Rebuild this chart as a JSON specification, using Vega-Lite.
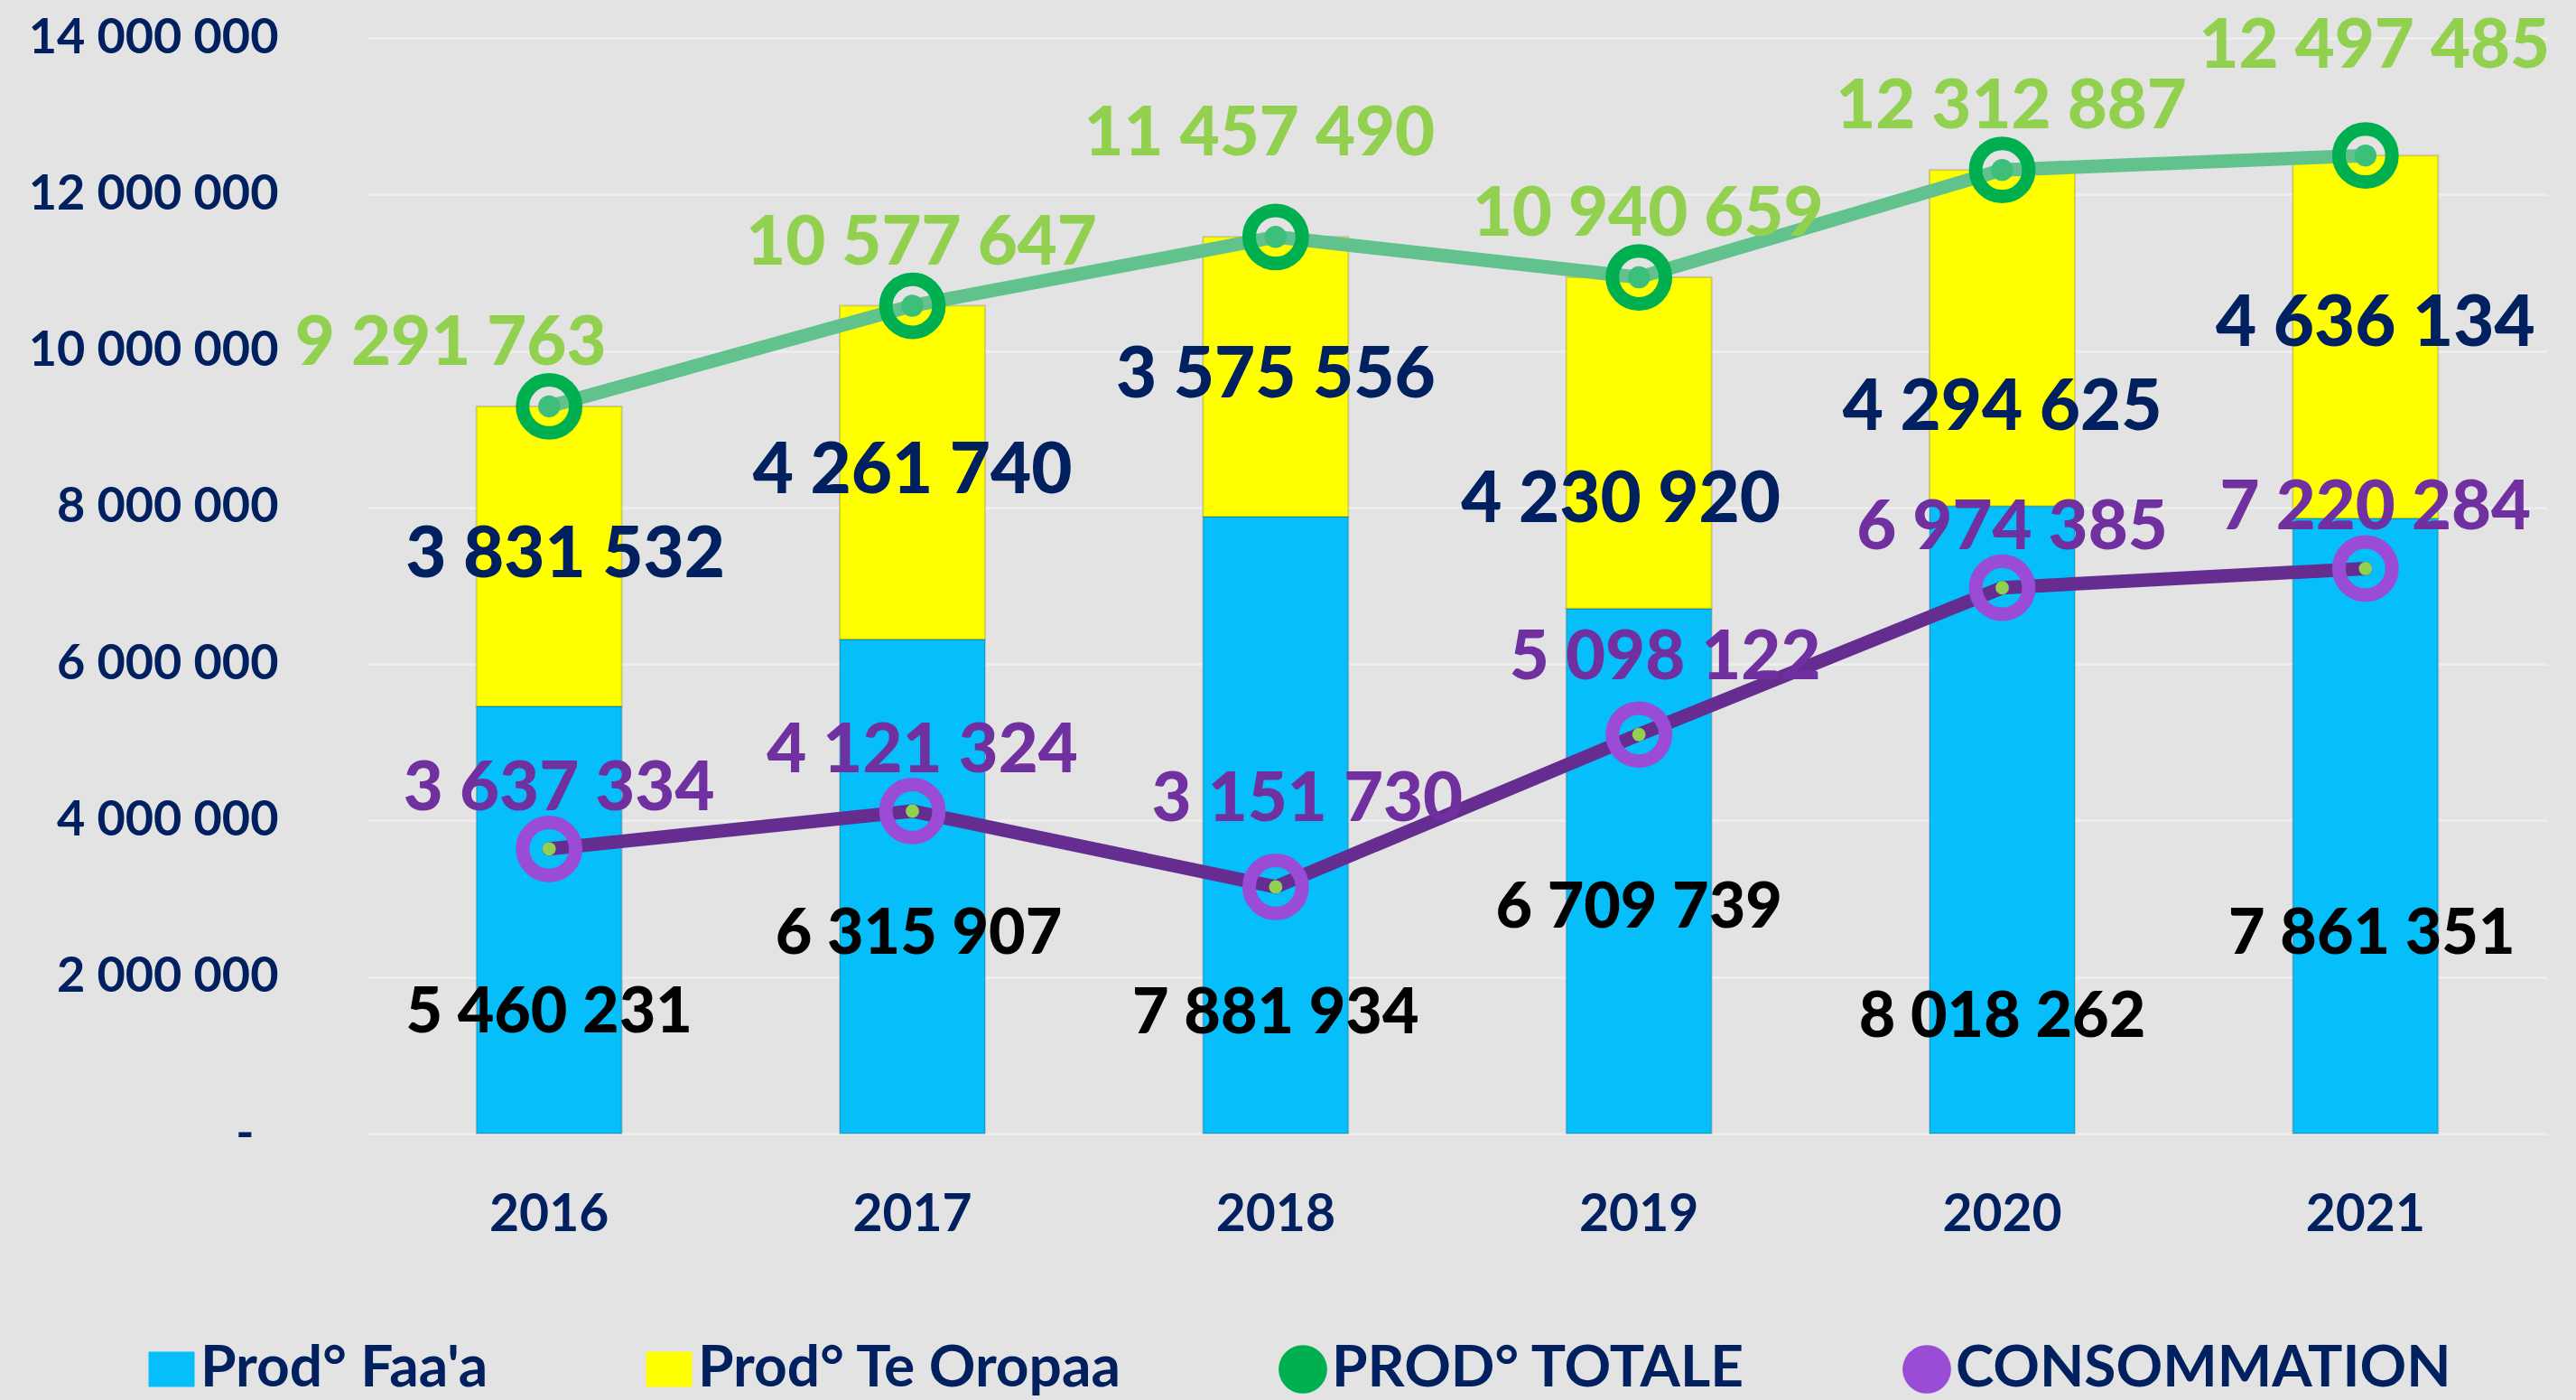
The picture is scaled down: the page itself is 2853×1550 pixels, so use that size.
{
  "$schema": "https://vega.github.io/schema/vega-lite/v6.json",
  "width": 2414,
  "height": 1213,
  "autosize": {"type": "none"},
  "padding": {"left": 407, "top": 42, "right": 32, "bottom": 295},
  "background": "#E3E3E3",
  "config": {
    "view": {"stroke": null},
    "font": "Lato",
    "locale": {"number": {"decimal": ",", "thousands": " ", "grouping": [3], "currency": ["", " €"]}},
    "axisY": {
      "labelFont": "Lato",
      "labelFontWeight": "bold",
      "labelFontSize": 54,
      "labelColor": "#002060",
      "labelLimit": 0,
      "ticks": false,
      "domain": false,
      "grid": true,
      "gridColor": "#EDEDED",
      "gridWidth": 3
    },
    "legend": {
      "orient": "none",
      "legendX": -249,
      "legendY": 1442,
      "direction": "horizontal",
      "labelFont": "Lato",
      "labelFontWeight": "bold",
      "labelFontSize": 64,
      "labelColor": "#002060",
      "labelLimit": 0,
      "labelOffset": 0,
      "symbolSize": 2000,
      "symbolStrokeWidth": 0,
      "columnPadding": 168
    }
  },
  "data": {
    "values": [
      {"year": "2016", "faa": 5460231, "oropaa": 3831532, "total": 9291763, "conso": 3637334},
      {"year": "2017", "faa": 6315907, "oropaa": 4261740, "total": 10577647, "conso": 4121324},
      {"year": "2018", "faa": 7881934, "oropaa": 3575556, "total": 11457490, "conso": 3151730},
      {"year": "2019", "faa": 6709739, "oropaa": 4230920, "total": 10940659, "conso": 5098122},
      {"year": "2020", "faa": 8018262, "oropaa": 4294625, "total": 12312887, "conso": 6974385},
      {"year": "2021", "faa": 7861351, "oropaa": 4636134, "total": 12497485, "conso": 7220284}
    ]
  },
  "encoding": {
    "x": {
      "field": "year",
      "type": "ordinal",
      "scale": {"paddingInner": 0, "paddingOuter": 0},
      "axis": {
        "title": null,
        "labelAngle": 0,
        "labelFont": "Lato",
        "labelFontWeight": "bold",
        "labelFontSize": 57,
        "labelColor": "#002060",
        "labelPadding": 62,
        "ticks": false,
        "domain": false,
        "grid": false
      }
    }
  },
  "layer": [
    {
      "transform": [
        {"fold": ["faa", "oropaa"], "as": ["key", "value"]},
        {"calculate": "datum.key == 'faa' ? \"Prod° Faa'a\" : 'Prod° Te Oropaa'", "as": "series"}
      ],
      "mark": {"type": "bar", "width": {"band": 0.4}, "stroke": "#000000", "strokeOpacity": 0.15, "strokeWidth": 2},
      "encoding": {
        "y": {
          "field": "value",
          "type": "quantitative",
          "stack": "zero",
          "scale": {"domain": [0, 14000000], "nice": false},
          "axis": {
            "title": null,
            "values": [0, 2000000, 4000000, 6000000, 8000000, 10000000, 12000000, 14000000],
            "format": ",.0f",
            "labelExpr": "datum.value === 0 ? '-' : datum.label",
            "labelPadding": {"condition": {"test": "datum.value === 0", "value": 126}, "value": 99}
          }
        },
        "color": {
          "field": "series",
          "type": "nominal",
          "scale": {
            "domain": ["Prod° Faa'a", "Prod° Te Oropaa", "PROD° TOTALE", "CONSOMMATION"],
            "range": ["#05BEFA", "#FFFF00", "#00B050", "#9A4CD6"]
          },
          "legend": {
            "title": null,
            "encode": {"symbols": {"update": {"fill": {"scale": "color", "field": "value"}, "stroke": {"value": "transparent"}, "opacity": {"value": 1}}}}
          }
        },
        "order": {"field": "key", "sort": "ascending"}
      }
    },
    {
      "transform": [
        {"fold": ["total", "conso"], "as": ["key", "value"]},
        {"calculate": "datum.key == 'total' ? 'PROD° TOTALE' : 'CONSOMMATION'", "as": "series"}
      ],
      "mark": {"type": "line", "strokeWidth": 15, "strokeCap": "round", "strokeJoin": "round"},
      "encoding": {
        "y": {
          "field": "value",
          "type": "quantitative",
          "scale": {"domain": [0, 14000000], "nice": false},
          "axis": {
            "title": null,
            "values": [0, 2000000, 4000000, 6000000, 8000000, 10000000, 12000000, 14000000],
            "format": ",.0f",
            "labelExpr": "datum.value === 0 ? '-' : datum.label",
            "labelPadding": {"condition": {"test": "datum.value === 0", "value": 126}, "value": 99}
          }
        },
        "stroke": {
          "field": "series",
          "type": "nominal",
          "scale": {"domain": ["PROD° TOTALE", "CONSOMMATION"], "range": ["#62C28E", "#662D91"]},
          "legend": null
        }
      }
    },
    {
      "transform": [
        {"fold": ["total", "conso"], "as": ["key", "value"]},
        {"calculate": "datum.key == 'total' ? 'PROD° TOTALE' : 'CONSOMMATION'", "as": "series"}
      ],
      "mark": {"type": "point", "filled": false, "strokeWidth": 15, "size": 2400, "opacity": 1},
      "encoding": {
        "y": {
          "field": "value",
          "type": "quantitative",
          "scale": {"domain": [0, 14000000], "nice": false},
          "axis": {
            "title": null,
            "values": [0, 2000000, 4000000, 6000000, 8000000, 10000000, 12000000, 14000000],
            "format": ",.0f",
            "labelExpr": "datum.value === 0 ? '-' : datum.label",
            "labelPadding": {"condition": {"test": "datum.value === 0", "value": 126}, "value": 99}
          }
        },
        "color": {
          "field": "series",
          "type": "nominal",
          "scale": {
            "domain": ["Prod° Faa'a", "Prod° Te Oropaa", "PROD° TOTALE", "CONSOMMATION"],
            "range": ["#05BEFA", "#FFFF00", "#00B050", "#9A4CD6"]
          },
          "legend": {
            "title": null,
            "encode": {"symbols": {"update": {"fill": {"scale": "color", "field": "value"}, "stroke": {"value": "transparent"}, "opacity": {"value": 1}}}}
          }
        },
        "shape": {
          "field": "series",
          "type": "nominal",
          "scale": {
            "domain": ["Prod° Faa'a", "Prod° Te Oropaa", "PROD° TOTALE", "CONSOMMATION"],
            "range": ["M-1.14,-0.87H1.14V0.87H-1.14Z", "M-1.14,-0.87H1.14V0.87H-1.14Z", "M-1.2,0A1.2,1.2,0,1,0,1.2,0A1.2,1.2,0,1,0,-1.2,0Z", "M-1.2,0A1.2,1.2,0,1,0,1.2,0A1.2,1.2,0,1,0,-1.2,0Z"]
          },
          "legend": {
            "title": null,
            "encode": {"symbols": {"update": {"fill": {"scale": "color", "field": "value"}, "stroke": {"value": "transparent"}, "opacity": {"value": 1}}}}
          }
        }
      }
    },
    {
      "transform": [
        {"fold": ["total", "conso"], "as": ["key", "value"]},
        {"calculate": "datum.key == 'total' ? 'PROD° TOTALE' : 'CONSOMMATION'", "as": "series"}
      ],
      "mark": {"type": "point", "filled": true, "opacity": 1},
      "encoding": {
        "y": {
          "field": "value",
          "type": "quantitative",
          "scale": {"domain": [0, 14000000], "nice": false},
          "axis": {
            "title": null,
            "values": [0, 2000000, 4000000, 6000000, 8000000, 10000000, 12000000, 14000000],
            "format": ",.0f",
            "labelExpr": "datum.value === 0 ? '-' : datum.label",
            "labelPadding": {"condition": {"test": "datum.value === 0", "value": 126}, "value": 99}
          }
        },
        "fill": {
          "field": "series",
          "type": "nominal",
          "scale": {"domain": ["PROD° TOTALE", "CONSOMMATION"], "range": ["#3DBF7A", "#92D050"]},
          "legend": null
        },
        "size": {
          "field": "series",
          "type": "nominal",
          "scale": {"domain": ["PROD° TOTALE", "CONSOMMATION"], "range": [600, 220]},
          "legend": null
        }
      }
    },
    {
      "mark": {
        "type": "text",
        "font": "Lato",
        "fontWeight": 900,
        "fontSize": 76,
        "color": "#92D050",
        "baseline": "middle",
        "dy": {"expr": "datum.year == '2018' ? -113 : datum.year == '2021' ? -120 : -69"},
        "dx": {"expr": "datum.year == '2016' ? -109 : datum.year == '2018' ? -18 : 10"}
      },
      "encoding": {
        "y": {
          "field": "total",
          "type": "quantitative",
          "scale": {"domain": [0, 14000000], "nice": false},
          "axis": {
            "title": null,
            "values": [0, 2000000, 4000000, 6000000, 8000000, 10000000, 12000000, 14000000],
            "format": ",.0f",
            "labelExpr": "datum.value === 0 ? '-' : datum.label",
            "labelPadding": {"condition": {"test": "datum.value === 0", "value": 126}, "value": 99}
          }
        },
        "text": {"field": "total", "type": "quantitative", "format": ","}
      }
    },
    {
      "mark": {
        "type": "text",
        "font": "Lato",
        "fontWeight": 900,
        "fontSize": 76,
        "color": "#7030A0",
        "baseline": "middle",
        "dy": {"expr": "datum.year == '2018' ? -96 : datum.year == '2019' ? -84 : -66"},
        "dx": {"expr": "datum.year == '2018' ? 35 : datum.year == '2019' ? 29 : 11"}
      },
      "encoding": {
        "y": {
          "field": "conso",
          "type": "quantitative",
          "scale": {"domain": [0, 14000000], "nice": false},
          "axis": {
            "title": null,
            "values": [0, 2000000, 4000000, 6000000, 8000000, 10000000, 12000000, 14000000],
            "format": ",.0f",
            "labelExpr": "datum.value === 0 ? '-' : datum.label",
            "labelPadding": {"condition": {"test": "datum.value === 0", "value": 126}, "value": 99}
          }
        },
        "text": {"field": "conso", "type": "quantitative", "format": ","}
      }
    },
    {
      "transform": [{"calculate": "datum.faa + datum.oropaa / 2", "as": "oroMid"}],
      "mark": {
        "type": "text",
        "font": "Lato",
        "fontWeight": 900,
        "fontSize": 78,
        "color": "#002060",
        "baseline": "middle",
        "dy": {"expr": "datum.year == '2019' ? 65 : datum.year == '2020' ? 79 : datum.year == '2021' ? -13 : 0"},
        "dx": {"expr": "datum.year == '2016' ? 18 : datum.year == '2019' ? -20 : datum.year == '2021' ? 11 : 0"}
      },
      "encoding": {
        "y": {
          "field": "oroMid",
          "type": "quantitative",
          "scale": {"domain": [0, 14000000], "nice": false},
          "axis": {
            "title": null,
            "values": [0, 2000000, 4000000, 6000000, 8000000, 10000000, 12000000, 14000000],
            "format": ",.0f",
            "labelExpr": "datum.value === 0 ? '-' : datum.label",
            "labelPadding": {"condition": {"test": "datum.value === 0", "value": 126}, "value": 99}
          }
        },
        "text": {"field": "oropaa", "type": "quantitative", "format": ","}
      }
    },
    {
      "transform": [{"calculate": "datum.faa / 2", "as": "faaMid"}],
      "mark": {
        "type": "text",
        "font": "Lato",
        "fontWeight": 900,
        "fontSize": 70,
        "color": "#000000",
        "baseline": "middle",
        "dy": {"expr": "datum.year == '2016' ? 104 : datum.year == '2017' ? 54 : datum.year == '2018' ? 209 : datum.year == '2019' ? 42 : datum.year == '2020' ? 219 : 121"},
        "dx": {"expr": "datum.year == '2017' || datum.year == '2021' ? 7 : 0"}
      },
      "encoding": {
        "y": {
          "field": "faaMid",
          "type": "quantitative",
          "scale": {"domain": [0, 14000000], "nice": false},
          "axis": {
            "title": null,
            "values": [0, 2000000, 4000000, 6000000, 8000000, 10000000, 12000000, 14000000],
            "format": ",.0f",
            "labelExpr": "datum.value === 0 ? '-' : datum.label",
            "labelPadding": {"condition": {"test": "datum.value === 0", "value": 126}, "value": 99}
          }
        },
        "text": {"field": "faa", "type": "quantitative", "format": ","}
      }
    }
  ]
}
